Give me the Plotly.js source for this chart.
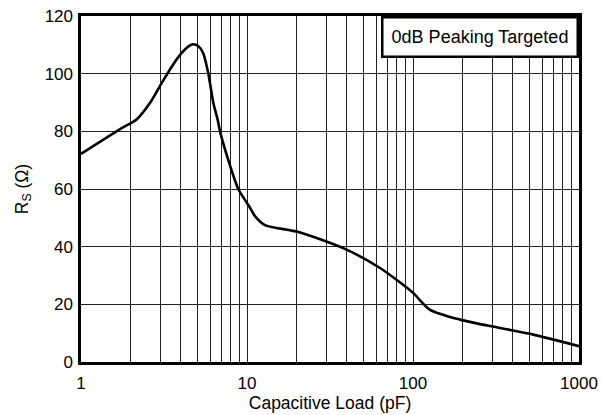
<!DOCTYPE html>
<html>
<head>
<meta charset="utf-8">
<script src="https://cdn.plot.ly/plotly-3.0.1.min.js"></script>
<style>html,body{margin:0;padding:0;background:#fff;}#chart{width:602px;height:415px;}</style>
</head>
<body>
<div id="chart"></div>
<script>
// Capacitive load (pF) and series resistance (ohm)
const capLoad = [1, 1.72, 2.17, 2.6, 3.06, 3.52, 3.95, 4.4, 4.71, 5.1, 5.45, 5.85, 6.27, 6.66, 6.88, 7.72, 8.86, 10.3, 11.2, 12.8, 20.4, 38, 63.3, 100, 126, 192, 334, 531, 1000];
const rsOhm   = [72.2, 80.8, 84.2, 89.8, 96.7, 102.4, 106.5, 109.3, 110.2, 109.5, 107.1, 100, 89.8, 84, 80, 70, 60, 54, 50.5, 47.5, 45.1, 39.5, 32.6, 24.0, 18.2, 14.7, 11.8, 9.5, 5.5];
const xTickVals = [1, 10, 100, 1000];
const xTickText = ['1', '10', '100', '1000'];
const xMinorVals = [2,3,4,5,6,7,8,9,20,30,40,50,60,70,80,90,200,300,400,500,600,700,800,900];
const yTickVals = [0, 20, 40, 60, 80, 100, 120];
const annotationText = '0dB Peaking Targeted';

const font = 'Arial, "Liberation Sans", Helvetica, sans-serif';

Plotly.newPlot('chart', [{
  x: capLoad, y: rsOhm, type: 'scatter', mode: 'lines',
  line: {color: '#000', width: 2.6, shape: 'spline', smoothing: 0.7},
  showlegend: false, hoverinfo: 'skip'
}], {
  width: 602, height: 415,
  margin: {l: 81, r: 23, t: 16, b: 53, pad: 0},
  paper_bgcolor: '#fff', plot_bgcolor: '#fff',
  font: {family: font, color: '#000', size: 17},
  xaxis: {
    type: 'log', range: [0, 3],
    tickmode: 'array', tickvals: xTickVals, ticktext: xTickText,
    ticks: '', showgrid: true, gridcolor: '#222', gridwidth: 1,
    minor: {tickmode: 'array', tickvals: xMinorVals, ticks: '', showgrid: true, gridcolor: '#222', gridwidth: 1},
    showline: true, linecolor: '#000', linewidth: 2.6, mirror: true,
    zeroline: false, tickfont: {size: 17, family: font}, ticklabelstandoff: 4,
    title: {text: 'Capacitive Load (pF)', font: {size: 17.5, family: font}, standoff: 0}
  },
  yaxis: {
    range: [0, 120], tickmode: 'array', tickvals: yTickVals,
    ticks: '', showgrid: true, gridcolor: '#222', gridwidth: 1,
    showline: true, linecolor: '#000', linewidth: 2.6, mirror: true,
    zeroline: false, tickfont: {size: 17, family: font}, ticklabelstandoff: 2,
    title: {text: 'R<sub>S</sub> (Ω)', font: {size: 17.5, family: font}, standoff: 12}
  },
  annotations: [{
    xref: 'paper', yref: 'paper', x: 1, y: 1, xanchor: 'right', yanchor: 'top',
    text: annotationText, showarrow: false,
    font: {size: 18, family: font, color: '#000'},
    bgcolor: '#fff', bordercolor: '#000', borderwidth: 2.5, borderpad: 0,
    width: 193, height: 37
  }]
}, {staticPlot: true, displayModeBar: false});
</script>
</body>
</html>
